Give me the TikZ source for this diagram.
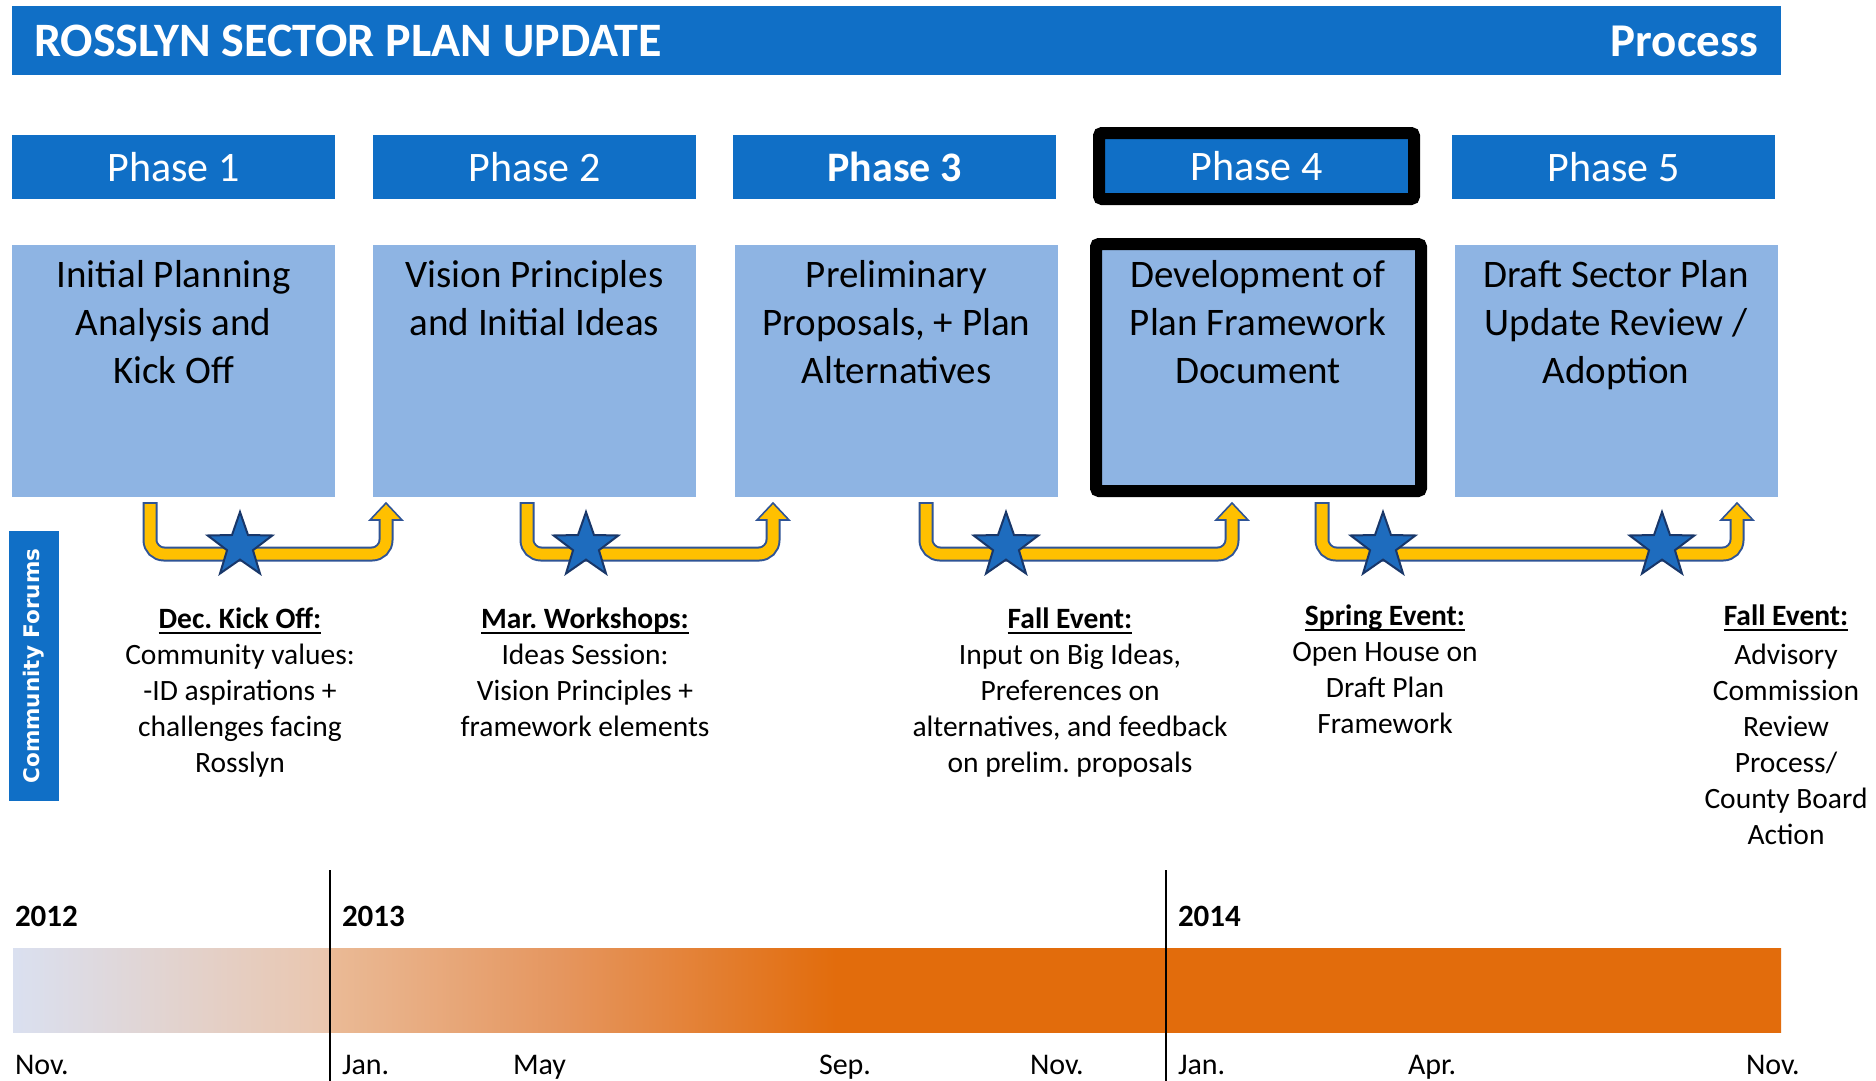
\documentclass[tikz,border=0pt]{standalone}
\usepackage{fontspec}
\setmainfont{Carlito}
\newfontfamily\dvsans{DejaVu Sans}
\usetikzlibrary{shapes.geometric,backgrounds}
\definecolor{hdrblue}{RGB}{16,111,198}
\definecolor{boxblue}{RGB}{142,180,227}
\definecolor{connGray}{RGB}{128,128,128}
\definecolor{arrYellow}{RGB}{255,192,0}
\definecolor{arrNavy}{RGB}{47,84,150}
\definecolor{starBlue}{RGB}{30,108,190}
\definecolor{starEdge}{RGB}{25,55,105}
\definecolor{barOrange}{RGB}{226,108,12}
\definecolor{barA}{RGB}{218,224,240}
\definecolor{barB}{RGB}{234,198,174}
\definecolor{barC}{RGB}{234,186,150}
\definecolor{barD}{RGB}{229,150,95}
\pgfdeclarehorizontalshading{barshade}{100bp}{color(0bp)=(barA); color(25bp)=(barA); color(33.96bp)=(barB); color(34bp)=(barC); color(40.47bp)=(barD); color(48.27bp)=(barOrange); color(100bp)=(barOrange)}
\newcommand\ulb[1]{\setbox0=\hbox{\bfseries #1}\rlap{\rule[-6pt]{\wd0}{2pt}}\box0}
\newcommand\ForumArrow[3]{%
  \coordinate (#1s) at (#2,504);
  \coordinate (#1c) at (#3,554);
  \coordinate (#1e) at (#3,518);
  \coordinate (#1t) at (#3,503);
  \draw[arrout] (#2,502) |- (#1c) -- (#1e);
  \filldraw[arrhead] (#1t) -- ({#3-16},520) -- ({#3+16},520) -- cycle;
  \draw[arrin] (#1s) |- (#1c) -- (#1e);
}
\frenchspacing
\begin{document}
\begin{tikzpicture}[x=1pt,y=-1pt,
  every node/.style={inner sep=0pt, outer sep=0pt},
  phasehdr/.style={fill=hdrblue, text=white, minimum width=323pt, minimum height=64pt, anchor=north west, font=\fontsize{42}{50}\selectfont},
  contentbox/.style={fill=boxblue, minimum width=323pt, minimum height=252pt, anchor=north west},
  boxtext/.style={font=\fontsize{39}{48}\selectfont, align=center, anchor=north},
  eventtext/.style={font=\frenchspacing\fontsize{29.5}{36}\selectfont, align=center, anchor=north},
  conn/.style={draw=connGray, line width=17pt},
  arrout/.style={draw=arrNavy, line width=15pt, rounded corners=14pt},
  arrin/.style={draw=arrYellow, line width=11pt, rounded corners=14pt},
  arrhead/.style={fill=arrYellow, draw=arrNavy, line width=1.6pt, line join=miter},
  forumstar/.style={star, star points=5, star point ratio=2.5, minimum size=68pt, fill=starBlue, draw=starEdge, line width=2pt},
  yearlbl/.style={font=\bfseries\fontsize{31}{36}\selectfont, anchor=base west},
  monthlbl/.style={font=\fontsize{30}{36}\selectfont, anchor=base west},
  yearline/.style={draw=black, line width=2.5pt}
]
\useasboundingbox[fill=white] (0,0) rectangle (1876,1081);

% header bar
\node[fill=hdrblue, minimum width=1769pt, minimum height=69pt, anchor=north west] (hdr) at (12,6) {};
\node[anchor=base west, text=white, font=\bfseries\fontsize{48}{54}\selectfont] (title) at (34,57) {ROSSLYN SECTOR PLAN UPDATE};
\node[anchor=base east, text=white, font=\bfseries\fontsize{47}{54}\selectfont] (proc) at (1758,57) {Process};

% phase headers
\node[phasehdr] (h1) at (12,135) {Phase 1};
\node[phasehdr] (h2) at (373,135) {Phase 2};
\node[phasehdr, font=\bfseries\fontsize{42}{50}\selectfont] (h3) at (733,135) {Phase 3};
\node[phasehdr, minimum width=315pt, minimum height=66pt, draw=black, line width=12pt, rounded corners=3pt] (h4) at (1099,133) {Phase 4};
\node[phasehdr] (h5) at (1452,135) {Phase 5};

% content boxes
\node[contentbox] (c1) at (12,245) {};
\node[contentbox] (c2) at (373,245) {};
\node[contentbox] (c3) at (735,245) {};
\node[contentbox, minimum width=325pt, minimum height=247pt, draw=black, line width=12pt, rounded corners=3pt] (c4) at (1096,244) {};
\node[contentbox] (c5) at (1455,245) {};

% connectors
\begin{scope}[on background layer]
\draw[conn] ([xshift=-2.5pt]h1.south) -- ([xshift=-2.5pt]h1.south |- c1.north);
\draw[conn] ([xshift=-4.5pt]h2.south) -- ([xshift=-4.5pt]h2.south |- c2.north);
\draw[conn] ([xshift=-7.5pt]h3.south) -- ([xshift=-7.5pt]h3.south |- c3.north);
\draw[conn] ([xshift=-1.5pt]h4.south) -- ([xshift=-1.5pt]h4.south |- c4.north);
\draw[conn] ([xshift=118.5pt]h5.south) -- ([xshift=118.5pt]h5.south |- c5.north);
\end{scope}

% content texts
\node[boxtext] (t1) at (173.5,253.4) {\strut Initial Planning\\Analysis and\\Kick Off};
\node[boxtext] (t2) at (534.5,253.4) {\strut Vision Principles\\and Initial Ideas};
\node[boxtext] (t3) at (896.5,253.4) {\strut Preliminary\\Proposals, + Plan\\Alternatives};
\node[boxtext] (t4) at (1258,253.4) {\strut Development of\\Plan Framework\\Document};
\node[boxtext] (t5) at (1616,253.4) {\strut Draft Sector Plan\\Update Review /\\Adoption};

% community forums label
\node[fill=hdrblue, minimum width=270pt, minimum height=50pt, rotate=90, text=white, font=\dvsans\bfseries\fontsize{21.5}{26}\selectfont] (cf) at (34,666) {Community Forums};

% forum arrows
\ForumArrow{a1}{150}{386}
\ForumArrow{a2}{527}{773}
\ForumArrow{a3}{926}{1232}
\ForumArrow{a4}{1322}{1737}

% stars
\node[forumstar] (s1) at (240,546) {};
\node[forumstar] (s2) at (586,546) {};
\node[forumstar] (s3) at (1006,546) {};
\node[forumstar] (s4) at (1383,546) {};
\node[forumstar] (s5) at (1662,546) {};

% event texts
\node[eventtext] (e1) at (240,602.8) {\strut\ulb{Dec. Kick Off:}\\Community values:\\-ID aspirations +\\challenges facing\\Rosslyn};
\node[eventtext] (e2) at (585,602.8) {\strut\ulb{Mar. Workshops:}\\Ideas Session:\\Vision Principles +\\framework elements};
\node[eventtext] (e3) at (1070,602.8) {\strut\ulb{Fall Event:}\\Input on Big Ideas,\\Preferences on\\alternatives, and feedback\\on prelim. proposals};
\node[eventtext] (e4) at (1385,599.8) {\strut\ulb{Spring Event:}\\Open House on\\Draft Plan\\Framework};
\node[eventtext] (e5) at (1786,599.8) {\strut\ulb{Fall Event:}\\[3pt]Advisory\\Commission\\Review\\Process/\\County Board\\Action};

% timeline bar
\shade[shading=barshade] (13,948) rectangle (1781,1032);

% year dividers
\coordinate (y13top) at (330,870);
\coordinate (y13bot) at (330,1081);
\coordinate (y14top) at (1166,870);
\coordinate (y14bot) at (1166,1081);
\draw[yearline] (y13top) -- (y13bot);
\draw[yearline] (y14top) -- (y14bot);

% labels
\node[yearlbl] (y12) at (15,926) {2012};
\node[yearlbl] (y13) at (342,926) {2013};
\node[yearlbl] (y14) at (1178,926) {2014};
\node[monthlbl] (m1) at (15,1074) {Nov.};
\node[monthlbl] (m2) at (342,1074) {Jan.};
\node[monthlbl] (m3) at (513,1074) {May};
\node[monthlbl] (m4) at (819,1074) {Sep.};
\node[monthlbl] (m5) at (1030,1074) {Nov.};
\node[monthlbl] (m6) at (1178,1074) {Jan.};
\node[monthlbl] (m7) at (1408,1074) {Apr.};
\node[monthlbl] (m8) at (1746,1074) {Nov.};
\end{tikzpicture}
\end{document}
